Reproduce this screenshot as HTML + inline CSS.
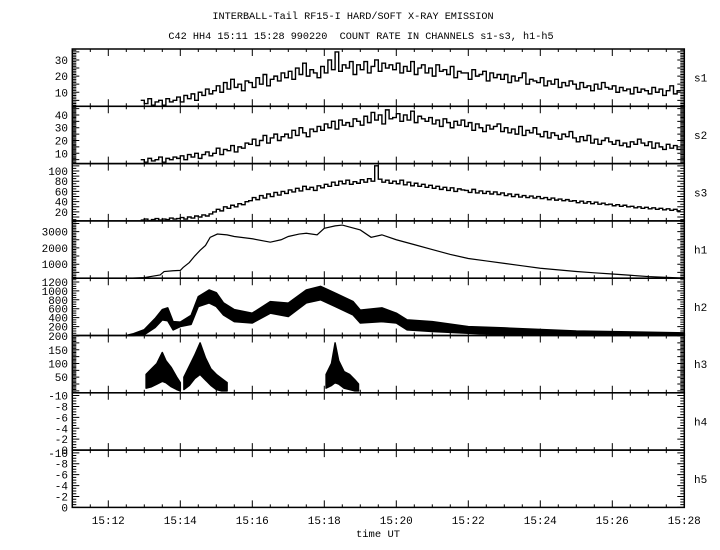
<!DOCTYPE html>
<html><head><meta charset="utf-8"><style>
html,body{margin:0;padding:0;background:#fff;}
svg{display:block;font-family:"Liberation Mono",monospace;}
</style></head><body>
<svg id="chart" width="720" height="550" viewBox="0 0 720 550" xmlns="http://www.w3.org/2000/svg">
<text x="353" y="19" font-size="10.2" text-anchor="middle">INTERBALL-Tail RF15-I HARD/SOFT X-RAY EMISSION</text>
<text x="361" y="39" font-size="10.2" text-anchor="middle" xml:space="preserve">C42 HH4 15:11 15:28 990220  COUNT RATE IN CHANNELS s1-s3, h1-h5</text>
<text x="378" y="537" font-size="10.5" text-anchor="middle">time UT</text>
<g id="g"></g>
</svg>
<script>
// time in minutes after 15:11
const xTickLabels = ["15:12","15:14","15:16","15:18","15:20","15:22","15:24","15:26","15:28"];
const panelNames = ["s1","s2","s3","h1","h2","h3","h4","h5"];
const sStart = 1.9, sStep = 0.1;
const s1Values = [5,3,6,2,4,5,2,6,4,5, 7,4,8,6,9,5,10,8,12,9, 11,14,10,16,12,18,13,15,11,17, 16,13,19,15,21,14,18,20,17,22, 19,23,18,25,21,28,20,24,22,19, 26,22,30,24,35,23,27,25,29,21, 27,24,29,22,26,30,23,28,25,27, 24,28,22,26,23,29,21,25,27,22, 25,20,27,23,24,21,26,19,23,22, 22,18,24,20,21,23,17,22,19,21, 18,21,16,20,17,19,22,15,18,17, 16,19,14,17,15,18,13,16,14,17, 15,12,16,13,14,11,15,12,16,13, 12,14,10,13,11,12,9,13,10,12, 11,9,13,10,12,8,11,14,9,11];
const s2Values = [5,3,6,4,5,7,3,6,5,7, 6,8,5,9,7,10,6,9,11,8, 10,14,9,13,12,16,11,15,14,18, 17,21,16,20,24,18,22,25,20,23, 25,22,28,24,30,26,23,29,27,31, 28,33,30,35,29,36,32,34,31,37, 35,32,39,34,42,36,40,33,44,37, 38,41,35,40,36,43,34,39,37,35, 38,33,36,31,37,34,30,35,32,36, 31,34,28,33,30,27,32,29,31,33, 27,30,26,29,25,31,24,28,26,30, 25,23,27,22,26,24,21,25,23,27, 22,19,23,20,24,18,21,17,20,22, 19,17,20,16,18,15,19,17,21,18, 16,19,14,18,15,13,17,14,16,13];
const s3Values = [4,6,3,5,7,4,6,5,8,6, 7,9,6,10,8,12,10,14,12,16, 20,25,22,30,27,33,30,36,34,40, 42,48,44,52,47,55,50,58,53,60, 56,63,59,66,61,70,64,68,62,71, 67,74,70,78,72,80,75,82,74,79, 76,83,78,85,80,110,84,78,82,76, 80,75,82,73,78,71,76,70,74,68, 72,66,70,64,68,62,67,60,65,63, 62,58,64,57,61,56,60,55,59,54, 57,52,55,50,54,49,52,48,51,47, 50,46,48,44,47,43,45,42,44,41, 42,38,41,37,40,36,39,35,37,34, 35,32,34,31,33,30,31,28,30,27, 29,26,28,25,27,24,26,23,25,22];
const h1Times = [1.6,2.0,2.17,2.44,2.55,2.8,3.0,3.08,3.25,3.4,3.55,3.7,3.83,4.03,4.3,4.5,5.0,5.5,5.8,6.0,6.3,6.5,6.8,7.0,7.3,7.5,8.0,8.3,8.6,9.0,9.5,10,10.5,11,11.5,12,12.5,13,13.5,14,14.5,15,15.5,16,16.5,17];
const h1Values = [141,180,240,340,550,600,620,800,1100,1500,1850,2150,2650,2850,2800,2700,2560,2350,2500,2700,2850,2900,2800,3200,3350,3400,3100,2650,2800,2500,2200,1900,1600,1350,1200,1050,900,750,650,550,470,400,320,240,190,150];
const h2Times = [1.5,1.7,2.0,2.3,2.5,2.65,2.8,3.0,3.3,3.5,3.8,4.0,4.2,4.5,5.0,5.5,6.0,6.5,6.9,7.3,7.8,8.0,8.6,9.0,9.3,10,11,12,14,17];
const h2Lo = [0,0,20,180,350,330,125,200,250,650,730,650,460,310,280,500,425,730,800,650,460,280,310,280,125,90,50,15,0,0];
const h2Hi = [0,40,130,380,580,620,310,300,450,870,1020,960,730,580,500,760,725,1020,1100,950,760,570,620,500,350,310,200,170,100,60];
const h3Burst1Times = [2.05,2.2,2.35,2.5,2.6,2.75,2.9,3.0];
const h3Burst1Hi = [60,80,100,140,110,85,50,30];
const h3Burst1Lo = [10,15,25,35,30,15,5,0];
const h3Burst2Times = [3.1,3.25,3.4,3.55,3.7,3.85,4.0,4.15,4.3];
const h3Burst2Hi = [50,90,130,175,120,80,60,45,30];
const h3Burst2Lo = [5,20,45,60,40,20,5,0,0];
const h3Burst3Times = [7.05,7.2,7.3,7.4,7.55,7.7,7.85,7.95];
const h3Burst3Hi = [60,100,175,110,70,60,40,25];
const h3Burst3Lo = [10,20,30,25,10,5,0,0];

const NS="http://www.w3.org/2000/svg";
const g=document.getElementById('g');
const X0=72.3, PXMIN=36, PT=49, PH=57.3, XR=684.3;
const xs=t=>X0+t*PXMIN;
function el(tag,attrs,parent){const e=document.createElementNS(NS,tag);for(const k in attrs)e.setAttribute(k,attrs[k]);(parent||g).appendChild(e);return e;}
const panels=[
 {dom:[1.3,36.8],labels:[10,20,30],minor:1,major:5},
 {dom:[1.9,46.8],labels:[10,20,30,40],minor:1,major:5},
 {dom:[2.4,114.4],labels:[20,40,60,80,100],minor:5,major:10},
 {dom:[141,3656],labels:[1000,2000,3000],minor:100,major:500},
 {dom:[0,1284],labels:[200,400,600,800,1000,1200],minor:50,major:200},
 {dom:[-7,202],labels:[50,100,150,200],minor:5,major:25},
 {dom:[0,-10.5],labels:[-10,-8,-6,-4,-2,0],minor:0.5,major:2},
 {dom:[0,-10.5],labels:[-10,-8,-6,-4,-2,0],minor:0.5,major:2}
];
function yScale(i){const p=panels[i];const top=PT+i*PH,bot=top+PH;return v=>bot-(v-p.dom[0])/(p.dom[1]-p.dom[0])*PH;}
panels.forEach((p,i)=>{
  const top=PT+i*PH,bot=top+PH,ys=yScale(i);
  const pg=el('g',{});
  
  
  const r=el('rect',{x:X0,y:top,width:XR-X0,height:PH,fill:'none',stroke:'#000','stroke-width':1.5},pg);
  
  
  let d='';
  for(let k=0;k<=34;k++){const t=k*0.5,x=xs(t);const L=(k%4===2)?7:3;d+=`M${x},${bot}v${-L}M${x},${top}v${L}`;}
  const lo=Math.min(p.dom[0],p.dom[1]),hi=Math.max(p.dom[0],p.dom[1]);
  for(let v=Math.ceil(lo/p.minor)*p.minor;v<=hi;v+=p.minor){const y=ys(v);const isMaj=Math.abs(v/p.major-Math.round(v/p.major))<1e-6;const L=isMaj?7:4;d+=`M${X0},${y}h${L}M${XR},${y}h${-L}`;}
  const tk=el('path',{d:d,stroke:'#000','stroke-width':1,fill:'none'},pg);
  
  
  p.labels.forEach(v=>{
    const tx=el('text',{x:68,y:ys(v)+4,'font-size':11,'text-anchor':'end'},pg);
    
    
    tx.textContent=v;
  });
  const nl=el('text',{x:694,y:top+PH/2+4,'font-size':11},pg);
  
  
  nl.textContent=panelNames[i];
});
xTickLabels.forEach((s,k)=>{
  const tx=el('text',{x:xs(1+2*k),y:524,'font-size':11,'text-anchor':'middle'});
  
  
  tx.textContent=s;
});
[[s1Values,0],[s2Values,1],[s3Values,2]].forEach(([vals,i])=>{
  const ys=yScale(i);let d='';
  vals.forEach((v,k)=>{const x1=xs(sStart+k*sStep),x2=xs(sStart+(k+1)*sStep),y=ys(v);d+=(k===0?`M${x1},${y}`:`V${y}`)+`H${Math.min(x2,XR)}`;});
  const p=el('path',{d:d,fill:'none',stroke:'#000','stroke-width':1.4});
  
  
});
{const ys=yScale(3);const pts=h1Times.map((t,k)=>xs(t)+','+ys(h1Values[k])).join(' ');
 const p=el('polyline',{points:pts,fill:'none',stroke:'#000','stroke-width':1.2});
 
 }
function band(times,lo,hi,i,name){
  const ys=yScale(i);
  const up=times.map((t,k)=>xs(t)+','+ys(hi[k]));
  const dn=times.map((t,k)=>xs(t)+','+ys(lo[k])).reverse();
  const p=el('polygon',{points:up.concat(dn).join(' '),fill:'#000',stroke:'#000','stroke-width':1.5,'stroke-linejoin':'round'});
  
  
}
band(h2Times,h2Lo,h2Hi,4,'series-h2');
band(h3Burst1Times,h3Burst1Lo,h3Burst1Hi,5,'series-h3-burst-1');
band(h3Burst2Times,h3Burst2Lo,h3Burst2Hi,5,'series-h3-burst-2');
band(h3Burst3Times,h3Burst3Lo,h3Burst3Hi,5,'series-h3-burst-3');
</script>
</body></html>
